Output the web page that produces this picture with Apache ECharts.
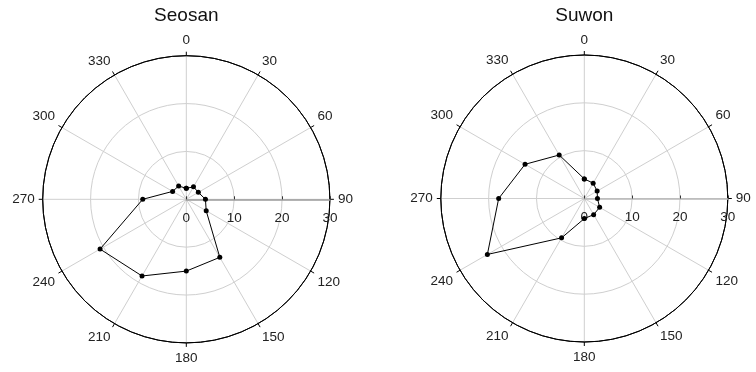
<!DOCTYPE html>
<html>
<head>
<meta charset="utf-8">
<script src="https://cdn.jsdelivr.net/npm/echarts@6/dist/echarts.min.js"></script>
<style>
html,body{margin:0;padding:0;background:#fff;}
#c{width:756px;height:372px;}
</style>
</head>
<body>
<div id="c"></div>
<script>
// Wind direction (degrees, compass) and values
const directions = [0, 30, 60, 90, 120, 150, 180, 210, 240, 270, 300, 330];
const seosanValues = [2.3, 3.0, 2.9, 4.0, 4.8, 14.0, 15.0, 18.5, 20.8, 9.1, 3.3, 3.2];
const suwonValues = [4.1, 3.7, 3.1, 2.75, 3.7, 3.9, 4.2, 9.5, 23.4, 17.9, 14.3, 10.5];
const titles = ['Seosan', 'Suwon'];
const radiusTicks = [0, 10, 20, 30];

const FONT = 'Liberation Sans, Arial, sans-serif';

// angle axis runs from 90 (east, where the radius axis lies) clockwise to 450
function toAxisAngle(d) { return d < 90 ? d + 360 : d; }
function seriesData(vals) {
  const pts = directions.map((d, i) => [vals[i], toAxisAngle(d)]);
  pts.push([vals[0], toAxisAngle(directions[0])]); // close the loop
  return pts;
}

const centers = [[186.3, 199.3], [584.3, 198.5]];
const radii = [143.6, 143.5];
const radiusLineColor = ['#9a9a9a', '#b8b8b8'];
const ringColors = radiusTicks.map((t, i) => i === radiusTicks.length - 1 ? '#000' : '#cfcfcf');

const option = {
  animation: false,
  backgroundColor: '#fff',
  polar: centers.map((c, i) => ({ center: c, radius: radii[i] })),
  angleAxis: [0, 1].map(i => ({
    polarIndex: i,
    type: 'value',
    min: 90, max: 450, interval: 30,
    startAngle: 0,
    clockwise: true,
    axisLine: { show: true, lineStyle: { color: '#000', width: 1 } },
    axisTick: { show: true, length: 4, lineStyle: { color: '#000', width: 1 } },
    axisLabel: {
      show: true, margin: 8, color: '#222', fontFamily: FONT, fontSize: 13.5,
      formatter: v => String(v % 360)
    },
    splitLine: { show: true, lineStyle: { color: '#cfcfcf', width: 1 } }
  })),
  radiusAxis: [0, 1].map(i => ({
    polarIndex: i,
    type: 'value',
    min: radiusTicks[0], max: radiusTicks[radiusTicks.length - 1], interval: 10,
    axisLine: { show: true, lineStyle: { color: radiusLineColor[i], width: 1.6 } },
    axisTick: { show: true, length: 3, lineStyle: { color: '#333', width: 1 } },
    axisLabel: {
      show: true, margin: -19, verticalAlign: 'middle', align: 'center',
      color: '#222', fontFamily: FONT, fontSize: 13.5
    },
    splitLine: { show: true, lineStyle: { color: ringColors, width: 1 } },
    z: 3
  })),
  series: [seosanValues, suwonValues].map((vals, i) => ({
    type: 'line',
    coordinateSystem: 'polar',
    polarIndex: i,
    data: seriesData(vals),
    symbol: 'circle',
    symbolSize: 5,
    showAllSymbol: true,
    lineStyle: { color: '#000', width: 1 },
    itemStyle: { color: '#000' },
    z: 5
  })),
  graphic: titles.map((t, i) => ({
    type: 'text',
    x: centers[i][0],
    y: 16,
    style: {
      text: t, fill: '#111', font: '19px ' + FONT,
      textAlign: 'center', textVerticalAlign: 'middle'
    }
  }))
};

const chart = echarts.init(document.getElementById('c'), null, { renderer: 'canvas' });
chart.setOption(option);
</script>
</body>
</html>
